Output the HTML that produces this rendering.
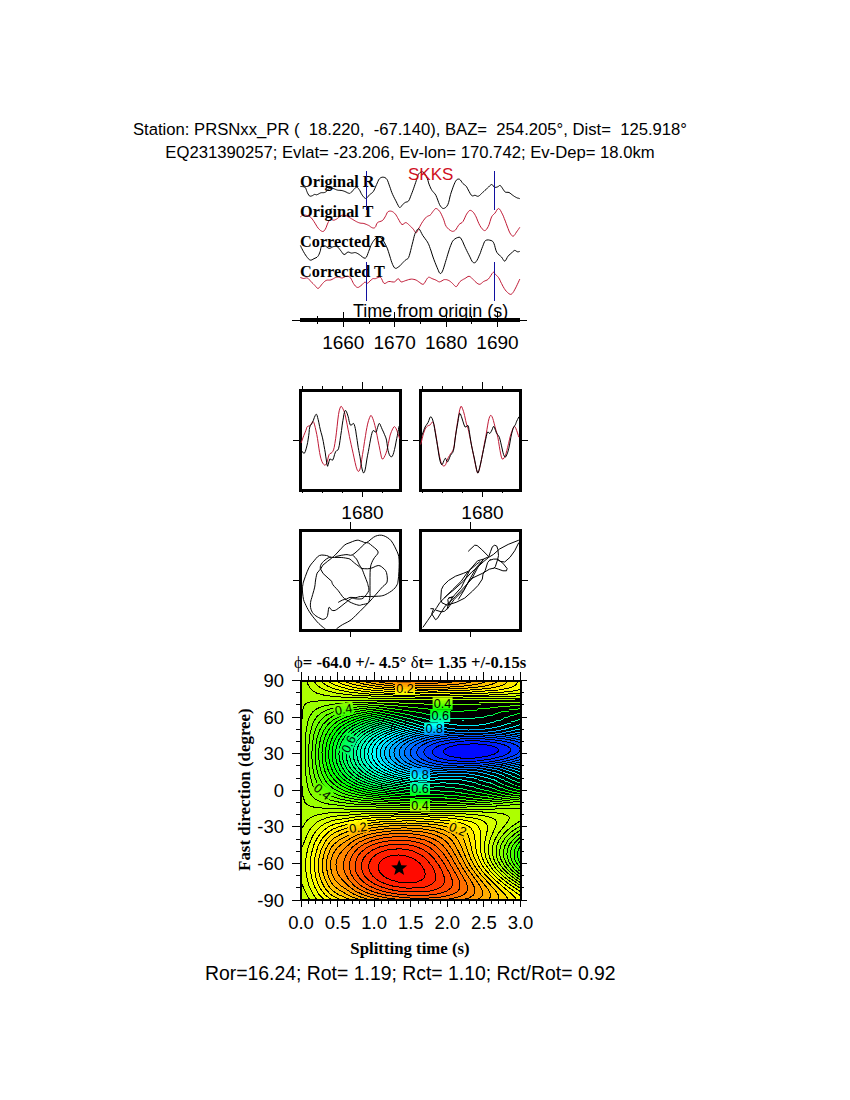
<!DOCTYPE html><html><head><meta charset="utf-8"><style>html,body{margin:0;padding:0;background:#fff;width:850px;height:1100px;overflow:hidden}svg{display:block}line{shape-rendering:crispEdges}</style></head><body>
<svg width="850" height="1100" viewBox="0 0 850 1100">
<rect width="850" height="1100" fill="#fff"/>
<text x="410" y="134.6" font-family="'Liberation Sans', sans-serif" font-size="16.67" text-anchor="middle" xml:space="preserve">Station: PRSNxx_PR (  18.220,  -67.140), BAZ=  254.205°, Dist=  125.918°</text>
<text x="410" y="157.9" font-family="'Liberation Sans', sans-serif" font-size="16.67" text-anchor="middle" xml:space="preserve">EQ231390257; Evlat= -23.206, Ev-lon= 170.742; Ev-Dep= 18.0km</text>
<g fill="none" stroke-width="1" stroke-linejoin="round">
<path stroke="#000" d="M300.4 186.4 301.3 186.5 302.6 186.6 304.0 186.8 305.1 187.3 305.7 188.1 306.1 189.2 306.5 190.4 306.9 191.5 307.4 192.7 308.0 193.9 308.7 195.0 309.3 195.8 310.0 196.1 310.7 196.2 311.4 196.0 312.1 195.8 312.7 195.5 313.3 195.1 313.9 194.7 314.5 194.4 315.0 194.4 315.6 194.6 316.1 194.8 316.8 194.8 317.7 194.4 318.7 193.9 319.7 193.3 320.6 192.9 321.4 192.7 322.1 192.7 322.8 192.7 323.4 192.7 324.0 192.6 324.6 192.5 325.2 192.3 325.8 192.0 326.4 191.4 326.9 190.6 327.5 189.8 328.1 189.2 328.8 188.8 329.5 188.5 330.2 188.3 330.9 188.2 331.6 188.2 332.3 188.3 333.0 188.5 333.8 188.7 334.6 189.0 335.5 189.4 336.5 189.8 337.5 190.1 338.6 190.3 339.8 190.3 341.1 190.4 342.2 190.6 343.2 190.9 344.2 191.2 345.1 191.6 346.0 192.0 346.9 192.4 347.7 192.9 348.6 193.2 349.3 193.4 349.9 193.3 350.5 193.0 351.0 192.5 351.6 192.0 352.3 191.3 353.1 190.3 353.8 189.4 354.5 188.7 355.1 188.1 355.7 187.6 356.2 187.3 356.8 187.3 357.4 187.5 358.0 188.0 358.6 188.7 359.2 189.6 359.9 190.7 360.6 192.1 361.3 193.6 362.0 194.8 362.7 195.8 363.5 196.8 364.2 197.6 364.8 198.1 365.3 198.4 365.8 198.5 366.2 198.4 366.7 198.1 367.3 197.5 368.0 196.7 368.7 195.7 369.5 194.8 370.4 194.1 371.4 193.4 372.4 192.6 373.3 191.5 374.2 190.0 375.0 188.2 375.8 186.2 376.6 184.5 377.3 182.9 378.0 181.3 378.6 179.9 379.4 178.8 380.3 178.0 381.2 177.5 382.2 177.2 383.2 177.2 384.2 177.3 385.1 177.7 386.0 178.3 386.9 179.3 387.7 180.8 388.4 182.7 389.1 184.8 389.8 186.8 390.5 188.7 391.1 190.6 391.8 192.5 392.6 194.4 393.5 196.3 394.5 198.3 395.5 200.2 396.4 201.9 397.2 203.6 398.1 205.3 398.8 206.7 399.6 207.5 400.3 207.4 401.1 206.6 401.8 205.6 402.5 204.7 403.2 204.1 403.9 203.5 404.6 202.9 405.3 202.4 406.1 202.1 407.0 201.9 407.8 201.6 408.6 200.9 409.3 199.7 410.0 198.0 410.7 196.2 411.4 194.4 412.1 192.6 412.8 190.7 413.5 188.8 414.2 186.8 414.9 184.7 415.7 182.4 416.4 180.3 417.1 178.4 417.6 176.9 417.9 175.6 418.3 174.5 418.9 173.6 419.7 172.8 420.7 172.1 421.7 171.7 422.7 171.8 423.7 172.4 424.7 173.5 425.6 174.9 426.5 176.5 427.3 178.4 428.0 180.6 428.6 182.9 429.3 184.9 430.0 186.5 430.6 188.0 431.3 189.3 432.1 190.6 433.0 191.7 433.9 192.7 434.9 193.8 435.9 195.3 436.8 197.5 437.8 200.1 438.7 202.6 439.6 204.7 440.5 206.2 441.5 207.4 442.4 208.2 443.4 208.5 444.5 208.2 445.7 207.5 446.8 206.3 447.8 204.7 448.6 202.5 449.3 199.8 449.9 197.0 450.6 194.4 451.3 192.1 452.1 189.9 452.8 187.8 453.5 185.9 454.2 184.2 454.9 182.6 455.6 181.2 456.3 180.2 457.1 179.5 457.9 179.1 458.8 179.1 459.6 179.3 460.4 180.0 461.2 181.1 462.0 182.4 462.9 183.5 463.8 184.3 464.7 184.9 465.6 185.6 466.6 186.8 467.7 188.8 469.0 191.3 470.3 193.7 471.4 195.3 472.4 195.9 473.3 195.8 474.2 195.4 475.1 195.3 475.9 195.6 476.7 196.0 477.5 196.3 478.4 196.2 479.4 195.6 480.4 194.7 481.5 193.6 482.6 192.5 483.8 191.5 485.0 190.3 486.2 189.2 487.4 188.2 488.5 187.1 489.6 185.9 490.7 185.0 491.6 184.5 492.4 184.8 493.1 185.7 493.7 186.7 494.4 187.3 495.2 187.4 496.1 187.3 496.9 187.1 497.7 186.8 498.4 186.4 499.0 185.9 499.5 185.5 500.1 185.4 500.7 185.8 501.2 186.5 501.8 187.3 502.4 188.2 503.0 189.2 503.7 190.2 504.4 191.3 505.2 192.0 506.1 192.3 507.0 192.3 508.0 192.3 509.0 192.5 510.0 193.1 510.9 193.8 511.9 194.6 512.8 195.3 513.7 195.9 514.7 196.6 515.6 197.1 516.5 197.6 517.4 198.0 518.4 198.2 519.2 198.5 519.8 198.6"/>
<path stroke="#c01a36" d="M300.4 216.9 300.9 216.5 301.6 215.8 302.5 215.3 303.6 215.0 305.1 215.1 306.9 215.5 308.7 216.1 310.2 216.9 311.3 217.8 312.2 219.0 313.1 220.2 314.0 221.6 315.0 223.2 316.1 225.0 317.1 226.7 318.2 228.2 319.3 229.4 320.4 230.4 321.5 231.1 322.5 231.5 323.3 231.4 324.0 231.0 324.6 230.2 325.3 229.2 326.0 227.8 326.7 226.0 327.4 224.1 328.1 222.6 328.7 221.4 329.3 220.5 329.8 219.8 330.5 219.3 331.3 219.3 332.1 219.7 332.9 220.1 333.8 220.2 334.7 220.0 335.7 219.5 336.6 219.0 337.5 218.4 338.3 217.8 339.0 217.1 339.7 216.5 340.4 216.0 341.1 215.6 341.8 215.3 342.4 215.2 343.2 215.1 344.0 215.2 344.9 215.3 345.9 215.6 346.9 216.0 348.0 216.6 349.2 217.3 350.4 218.1 351.6 218.8 352.8 219.5 354.1 220.3 355.3 221.0 356.4 221.6 357.4 222.1 358.3 222.5 359.2 222.8 360.1 223.1 361.0 223.2 361.9 223.3 362.9 223.3 363.9 223.5 365.0 223.9 366.2 224.3 367.5 224.9 368.6 225.4 369.6 226.0 370.6 226.8 371.5 227.4 372.4 227.8 373.2 228.0 373.9 228.0 374.6 227.8 375.2 227.3 375.8 226.4 376.2 225.0 376.8 223.7 377.5 222.6 378.5 222.0 379.8 221.6 381.1 221.2 382.2 220.7 383.1 219.9 383.8 219.0 384.4 218.0 385.1 216.9 385.8 215.6 386.5 214.1 387.1 212.8 387.9 211.8 388.8 211.3 389.7 211.1 390.6 211.1 391.6 211.3 392.6 211.7 393.6 212.4 394.5 213.2 395.4 214.1 396.1 215.1 396.8 216.3 397.5 217.5 398.2 218.8 399.1 220.3 400.0 222.1 401.0 223.6 402.0 224.5 403.0 224.4 403.9 223.7 404.9 222.9 405.8 222.6 406.7 222.9 407.6 223.6 408.6 224.5 409.5 225.4 410.5 226.3 411.5 227.2 412.4 228.2 413.3 229.2 414.1 230.3 414.8 231.6 415.4 232.6 416.1 232.9 416.8 232.4 417.4 231.2 418.1 229.7 418.9 228.2 419.8 226.6 420.7 224.9 421.7 223.2 422.7 221.6 423.7 220.2 424.6 219.0 425.6 217.8 426.5 216.9 427.5 216.3 428.4 215.9 429.3 215.6 430.2 215.1 431.0 214.3 431.7 213.3 432.4 212.2 433.1 211.3 433.8 210.4 434.5 209.5 435.1 208.8 435.9 208.5 436.8 208.7 437.7 209.3 438.6 210.1 439.6 211.3 440.6 212.8 441.6 214.8 442.5 216.8 443.4 218.8 444.1 220.8 444.7 222.8 445.3 224.7 446.2 226.4 447.4 227.9 448.8 229.3 450.3 230.4 451.6 231.1 452.7 231.4 453.6 231.2 454.5 230.8 455.4 230.1 456.3 229.0 457.2 227.4 458.2 225.8 459.1 224.5 460.0 223.7 461.0 223.2 462.0 222.6 462.9 221.6 463.8 220.0 464.8 217.9 465.7 215.8 466.6 214.1 467.5 212.8 468.3 211.7 469.1 210.8 469.9 210.4 470.7 210.4 471.6 210.8 472.4 211.4 473.2 212.2 473.9 213.1 474.6 214.1 475.3 215.4 476.1 216.9 476.9 218.8 477.8 221.1 478.8 223.4 479.8 225.4 480.9 227.2 482.1 228.8 483.4 230.0 484.5 230.6 485.5 230.3 486.5 229.4 487.4 228.0 488.3 226.4 489.2 224.3 490.0 221.6 490.8 219.0 491.6 216.9 492.4 215.6 493.2 214.8 494.0 214.1 494.9 213.2 495.8 211.9 496.7 210.3 497.7 209.0 498.6 208.5 499.5 209.1 500.5 210.4 501.4 212.2 502.4 214.1 503.4 216.2 504.3 218.6 505.3 221.1 506.2 223.5 507.1 226.0 508.1 228.6 509.0 231.0 509.9 232.9 510.8 234.3 511.6 235.4 512.4 236.0 513.2 236.2 514.0 235.7 514.9 234.6 515.7 233.3 516.5 232.0 517.4 230.8 518.4 229.4 519.2 228.2 519.8 227.3"/>
<path stroke="#000" d="M300.4 245.5 300.8 246.3 301.3 247.5 302.0 248.8 302.7 250.2 303.5 251.7 304.5 253.4 305.5 255.0 306.5 256.4 307.4 257.6 308.3 258.7 309.3 259.6 310.2 260.1 311.1 260.1 312.1 259.8 313.0 259.2 314.0 258.7 315.0 258.2 316.0 257.8 317.0 257.2 317.8 256.4 318.5 255.4 319.1 254.2 319.6 252.9 320.1 251.6 320.5 250.2 320.7 248.8 321.0 247.5 321.5 246.5 322.3 246.0 323.2 245.8 324.3 245.8 325.3 246.0 326.2 246.5 327.1 247.3 328.1 248.0 329.1 248.4 330.2 248.2 331.5 247.6 332.7 246.9 333.8 246.5 334.8 246.4 335.8 246.4 336.7 246.5 337.5 246.9 338.3 247.5 338.9 248.3 339.6 249.2 340.4 250.2 341.3 251.4 342.2 252.7 343.1 253.9 344.1 254.5 345.0 254.3 346.0 253.5 347.0 252.6 347.9 252.1 348.8 252.1 349.8 252.5 350.7 252.9 351.6 253.1 352.5 253.0 353.5 252.8 354.4 252.6 355.4 252.6 356.3 252.9 357.2 253.3 358.1 253.8 359.2 254.5 360.6 255.5 362.3 256.9 363.9 258.0 365.3 258.2 366.3 257.3 367.2 255.5 367.9 253.5 368.6 251.6 369.2 250.0 369.8 248.4 370.3 246.9 370.9 245.5 371.5 244.3 372.0 243.3 372.6 242.3 373.3 241.3 374.1 240.2 375.0 239.1 376.0 238.1 377.0 237.5 378.0 237.2 379.1 237.1 380.1 237.4 381.3 238.2 382.6 239.7 384.0 241.8 385.3 244.2 386.5 246.6 387.5 248.9 388.3 251.3 389.1 253.8 389.8 256.1 390.5 258.4 391.2 260.7 391.9 262.7 392.6 264.5 393.3 265.9 393.9 267.0 394.6 267.9 395.4 268.3 396.3 268.3 397.2 267.8 398.2 267.1 399.2 266.4 400.2 265.6 401.1 264.6 402.0 263.5 402.9 262.6 403.7 261.8 404.4 261.1 405.1 260.4 405.8 259.8 406.5 259.4 407.2 259.1 407.9 258.6 408.6 257.5 409.3 255.6 410.0 253.1 410.7 250.4 411.4 247.6 412.1 244.7 412.9 241.6 413.6 238.7 414.2 236.3 414.7 234.6 415.1 233.4 415.6 232.5 416.1 231.6 416.7 230.5 417.4 229.5 418.1 228.8 418.9 228.8 419.8 229.8 420.7 231.5 421.7 233.5 422.7 235.4 423.9 237.0 425.1 238.7 426.3 240.3 427.4 241.9 428.2 243.4 428.9 244.9 429.5 246.5 430.2 248.5 431.1 251.0 432.0 254.0 433.0 257.0 434.0 259.8 435.0 262.4 436.0 264.9 437.0 267.3 437.8 269.2 438.5 270.8 439.0 272.1 439.6 273.0 440.1 273.5 440.7 273.5 441.3 273.1 441.9 272.3 442.5 271.1 443.2 269.4 443.9 267.2 444.6 264.9 445.3 262.6 445.9 260.5 446.6 258.4 447.2 256.3 447.8 254.2 448.5 252.0 449.2 249.8 449.9 247.6 450.6 245.7 451.3 244.0 451.9 242.5 452.6 241.2 453.5 240.1 454.8 239.0 456.3 238.1 457.8 237.5 459.1 237.2 460.0 237.4 460.6 237.9 461.2 238.9 461.9 240.1 462.8 241.8 463.7 244.0 464.7 246.3 465.7 248.5 466.7 250.5 467.6 252.4 468.6 254.3 469.5 256.1 470.4 257.9 471.2 259.7 472.0 261.2 472.8 262.2 473.6 262.7 474.4 262.8 475.2 262.5 476.1 261.7 477.0 260.3 478.0 258.4 478.9 256.2 479.8 254.2 480.6 252.3 481.2 250.3 481.9 248.4 482.6 246.6 483.3 244.8 483.9 243.1 484.6 241.6 485.5 240.5 486.8 240.0 488.3 239.9 489.8 240.2 491.1 240.5 492.0 240.9 492.7 241.4 493.3 242.2 493.9 243.4 494.6 245.3 495.2 247.7 495.9 250.2 496.8 252.3 497.9 253.8 499.1 254.9 500.4 256.0 501.5 257.0 502.4 258.3 503.2 259.7 504.0 260.8 504.8 261.2 505.6 260.5 506.4 259.1 507.2 257.5 508.1 256.1 509.0 255.1 510.0 254.3 510.9 253.5 511.8 252.8 512.6 252.0 513.2 251.3 513.9 250.7 514.6 250.4 515.3 250.5 516.1 251.0 516.8 251.5 517.5 251.8 518.2 251.8 518.8 251.7 519.4 251.5 519.8 251.4"/>
<path stroke="#c01a36" d="M300.4 277.5 301.0 277.7 301.8 278.0 302.7 278.3 303.6 278.5 304.5 278.4 305.5 278.1 306.4 277.9 307.4 278.0 308.4 278.7 309.3 279.6 310.3 280.8 311.2 281.8 312.1 282.8 313.1 283.7 314.0 284.6 314.9 285.5 315.7 286.5 316.5 287.5 317.3 288.2 318.2 288.4 319.2 287.7 320.3 286.4 321.4 284.9 322.5 283.6 323.4 282.6 324.3 281.7 325.2 281.0 326.2 280.4 327.3 280.1 328.5 280.1 329.7 280.1 330.9 279.9 332.1 279.4 333.4 278.7 334.6 278.0 335.6 277.5 336.4 277.2 337.1 277.1 337.8 277.1 338.5 277.1 339.3 277.3 340.2 277.6 341.2 277.9 342.2 278.0 343.3 277.6 344.5 277.0 345.8 276.4 346.9 276.1 347.9 276.2 348.9 276.6 349.8 277.2 350.7 278.0 351.4 279.2 352.1 280.7 352.8 282.2 353.5 283.6 354.4 284.8 355.3 286.0 356.3 286.9 357.3 287.4 358.3 287.4 359.2 286.9 360.2 286.2 361.1 285.5 362.1 284.7 363.0 283.7 363.9 282.8 364.8 282.2 365.5 282.3 366.1 282.8 366.8 283.2 367.6 283.2 368.7 282.4 370.0 281.1 371.3 279.8 372.4 278.9 373.3 278.6 374.0 278.6 374.7 278.7 375.6 278.6 376.7 278.1 378.0 277.5 379.2 277.0 380.4 277.2 381.4 278.4 382.3 280.3 383.1 282.2 384.1 283.4 385.2 283.4 386.3 282.8 387.5 282.0 388.8 281.5 390.2 281.5 391.7 281.8 393.2 282.0 394.5 281.9 395.6 281.2 396.5 280.1 397.4 279.0 398.2 278.6 398.9 279.1 399.6 280.1 400.3 281.3 401.1 281.9 402.1 281.9 403.3 281.5 404.5 281.0 405.8 280.5 407.2 280.1 408.6 279.6 410.0 279.3 411.4 279.1 412.7 279.2 413.9 279.4 415.1 279.7 416.1 280.1 416.9 280.5 417.5 280.9 418.1 281.4 418.9 281.9 419.9 282.6 421.0 283.5 422.2 284.2 423.2 284.3 424.1 283.6 425.0 282.2 425.8 280.8 426.5 279.6 427.1 278.7 427.6 278.0 428.2 277.5 428.8 277.2 429.5 277.3 430.4 277.7 431.2 278.2 432.1 278.6 433.0 279.0 434.0 279.3 434.9 279.7 435.9 280.1 436.8 280.6 437.7 281.2 438.6 281.7 439.6 281.9 440.7 281.5 442.0 280.8 443.2 280.0 444.4 279.6 445.5 279.6 446.7 279.7 447.8 280.1 448.8 280.5 449.8 281.1 450.7 281.8 451.6 282.6 452.5 283.4 453.4 284.4 454.4 285.5 455.3 286.4 456.3 286.6 457.2 285.9 458.1 284.4 459.1 282.8 460.1 281.5 461.2 280.6 462.4 279.9 463.6 279.2 464.8 278.6 465.9 277.9 467.0 277.1 468.0 276.5 469.0 276.3 469.9 276.5 470.7 277.1 471.5 277.8 472.3 278.6 473.2 279.5 474.2 280.5 475.1 281.5 476.1 282.4 477.0 283.1 477.9 283.8 478.9 284.2 479.8 284.3 480.7 283.9 481.6 283.2 482.6 282.3 483.6 281.5 484.7 281.0 485.9 280.5 487.1 280.0 488.3 279.1 489.5 277.6 490.8 275.6 492.0 273.7 493.0 272.5 493.6 272.2 494.0 272.5 494.4 273.2 494.9 273.9 495.7 274.6 496.7 275.5 497.7 276.6 498.6 277.7 499.4 279.0 500.1 280.4 500.7 281.9 501.5 283.4 502.3 285.0 503.2 286.7 504.2 288.4 505.2 289.9 506.3 291.3 507.6 292.5 508.8 293.6 509.9 294.2 510.7 294.4 511.4 294.2 512.1 293.6 512.8 292.8 513.7 291.5 514.6 289.9 515.6 288.0 516.5 286.2 517.4 284.3 518.4 282.2 519.2 280.4 519.8 279.1"/>
</g>
<text x="300" y="186.9" font-family="'Liberation Serif', serif" font-weight="bold" font-size="16.3">Original R</text>
<text x="300" y="216.9" font-family="'Liberation Serif', serif" font-weight="bold" font-size="16.3">Original T</text>
<text x="300" y="246.8" font-family="'Liberation Serif', serif" font-weight="bold" font-size="16.3">Corrected R</text>
<text x="300" y="276.5" font-family="'Liberation Serif', serif" font-weight="bold" font-size="16.3">Corrected T</text>
<text x="408" y="179.8" font-family="'Liberation Sans', sans-serif" font-size="17" fill="#d0101e">SKKS</text>
<line x1="292" y1="320.4" x2="527" y2="320.4" stroke="#000" stroke-width="1"/>
<rect x="300" y="318" width="220" height="4" fill="#000"/>
<line x1="317.6" y1="316" x2="317.6" y2="323.6" stroke="#000" stroke-width="1"/>
<line x1="343.3" y1="312" x2="343.3" y2="326.6" stroke="#000" stroke-width="1"/>
<text x="343.3" y="348.7" font-family="'Liberation Sans', sans-serif" font-size="19" text-anchor="middle">1660</text>
<line x1="369.0" y1="316" x2="369.0" y2="323.6" stroke="#000" stroke-width="1"/>
<line x1="394.7" y1="312" x2="394.7" y2="326.6" stroke="#000" stroke-width="1"/>
<text x="394.7" y="348.7" font-family="'Liberation Sans', sans-serif" font-size="19" text-anchor="middle">1670</text>
<line x1="420.4" y1="316" x2="420.4" y2="323.6" stroke="#000" stroke-width="1"/>
<line x1="446.1" y1="312" x2="446.1" y2="326.6" stroke="#000" stroke-width="1"/>
<text x="446.1" y="348.7" font-family="'Liberation Sans', sans-serif" font-size="19" text-anchor="middle">1680</text>
<line x1="471.8" y1="316" x2="471.8" y2="323.6" stroke="#000" stroke-width="1"/>
<line x1="497.5" y1="312" x2="497.5" y2="326.6" stroke="#000" stroke-width="1"/>
<text x="497.5" y="348.7" font-family="'Liberation Sans', sans-serif" font-size="19" text-anchor="middle">1690</text>
<text x="353" y="316.7" font-family="'Liberation Sans', sans-serif" font-size="18">Time from origin (s)</text>
<line x1="366.2" y1="171.4" x2="366.2" y2="210.3" stroke="#1010a0" stroke-width="1.2"/>
<line x1="366.2" y1="261.5" x2="366.2" y2="300.8" stroke="#1010a0" stroke-width="1.2"/>
<line x1="494.5" y1="171.4" x2="494.5" y2="210.3" stroke="#1010a0" stroke-width="1.2"/>
<line x1="494.5" y1="261.5" x2="494.5" y2="300.8" stroke="#1010a0" stroke-width="1.2"/>
<rect x="300.5" y="390.5" width="100" height="100" fill="none" stroke="#000" stroke-width="3"/>
<line x1="302.5" y1="386" x2="302.5" y2="389" stroke="#000" stroke-width="1"/>
<line x1="302.5" y1="492" x2="302.5" y2="493.4" stroke="#000" stroke-width="1"/>
<line x1="322.5" y1="386" x2="322.5" y2="389" stroke="#000" stroke-width="1"/>
<line x1="322.5" y1="492" x2="322.5" y2="493.4" stroke="#000" stroke-width="1"/>
<line x1="342.5" y1="386" x2="342.5" y2="389" stroke="#000" stroke-width="1"/>
<line x1="342.5" y1="492" x2="342.5" y2="493.4" stroke="#000" stroke-width="1"/>
<line x1="362.5" y1="382" x2="362.5" y2="389" stroke="#000" stroke-width="1"/>
<line x1="362.5" y1="492" x2="362.5" y2="496.7" stroke="#000" stroke-width="1"/>
<line x1="382.5" y1="386" x2="382.5" y2="389" stroke="#000" stroke-width="1"/>
<line x1="382.5" y1="492" x2="382.5" y2="493.4" stroke="#000" stroke-width="1"/>
<line x1="292.5" y1="440.3" x2="299.5" y2="440.3" stroke="#000" stroke-width="1"/>
<line x1="401.5" y1="440.3" x2="407.5" y2="440.3" stroke="#000" stroke-width="1"/>
<text x="362.5" y="518.8" font-family="'Liberation Sans', sans-serif" font-size="19" text-anchor="middle">1680</text>
<rect x="300.5" y="530.5" width="100" height="100" fill="none" stroke="#000" stroke-width="3"/>
<line x1="350.5" y1="522" x2="350.5" y2="529" stroke="#000" stroke-width="1"/>
<line x1="350.5" y1="632" x2="350.5" y2="636.7" stroke="#000" stroke-width="1"/>
<line x1="292.5" y1="580.3" x2="299.5" y2="580.3" stroke="#000" stroke-width="1"/>
<line x1="401.5" y1="580.3" x2="407.5" y2="580.3" stroke="#000" stroke-width="1"/>
<rect x="420.5" y="390.5" width="100" height="100" fill="none" stroke="#000" stroke-width="3"/>
<line x1="422.5" y1="386" x2="422.5" y2="389" stroke="#000" stroke-width="1"/>
<line x1="422.5" y1="492" x2="422.5" y2="493.4" stroke="#000" stroke-width="1"/>
<line x1="442.5" y1="386" x2="442.5" y2="389" stroke="#000" stroke-width="1"/>
<line x1="442.5" y1="492" x2="442.5" y2="493.4" stroke="#000" stroke-width="1"/>
<line x1="462.5" y1="386" x2="462.5" y2="389" stroke="#000" stroke-width="1"/>
<line x1="462.5" y1="492" x2="462.5" y2="493.4" stroke="#000" stroke-width="1"/>
<line x1="482.5" y1="382" x2="482.5" y2="389" stroke="#000" stroke-width="1"/>
<line x1="482.5" y1="492" x2="482.5" y2="496.7" stroke="#000" stroke-width="1"/>
<line x1="502.5" y1="386" x2="502.5" y2="389" stroke="#000" stroke-width="1"/>
<line x1="502.5" y1="492" x2="502.5" y2="493.4" stroke="#000" stroke-width="1"/>
<line x1="412.5" y1="440.3" x2="419.5" y2="440.3" stroke="#000" stroke-width="1"/>
<line x1="521.5" y1="440.3" x2="527.5" y2="440.3" stroke="#000" stroke-width="1"/>
<text x="482.5" y="518.8" font-family="'Liberation Sans', sans-serif" font-size="19" text-anchor="middle">1680</text>
<rect x="420.5" y="530.5" width="100" height="100" fill="none" stroke="#000" stroke-width="3"/>
<line x1="470.5" y1="522" x2="470.5" y2="529" stroke="#000" stroke-width="1"/>
<line x1="470.5" y1="632" x2="470.5" y2="636.7" stroke="#000" stroke-width="1"/>
<line x1="412.5" y1="580.3" x2="419.5" y2="580.3" stroke="#000" stroke-width="1"/>
<line x1="521.5" y1="580.3" x2="527.5" y2="580.3" stroke="#000" stroke-width="1"/>
<g fill="none" stroke-width="1" stroke-linejoin="round">
<path stroke="#c01a36" d="M301.1 443.0 301.5 441.8 302.2 440.0 302.9 437.9 303.8 435.5 304.9 432.9 305.8 430.6 306.4 428.9 306.7 427.6 307.3 426.6 308.2 426.1 309.2 426.0 310.2 425.5 311.2 424.0 312.2 422.2 313.1 421.5 313.9 422.6 314.6 424.9 315.3 427.7 316.0 430.9 316.8 434.6 317.5 438.6 318.2 443.2 318.9 448.1 319.6 452.5 320.3 456.0 321.0 458.8 321.8 461.2 322.7 463.1 323.8 464.5 324.7 465.2 325.5 465.0 326.2 464.1 326.9 462.6 327.6 460.1 328.3 457.0 329.1 454.6 330.0 453.6 331.1 453.2 332.0 452.5 332.8 451.4 333.5 449.9 334.2 447.4 334.9 443.4 335.7 438.3 336.4 432.8 337.1 426.6 337.8 420.0 338.5 414.6 339.2 410.8 340.0 408.1 340.7 406.6 341.4 406.4 342.2 407.4 342.9 408.8 343.6 410.1 344.3 411.9 345.1 414.6 346.0 419.0 347.1 424.3 348.0 429.2 348.8 433.0 349.4 436.4 350.2 440.1 351.1 444.3 352.1 448.8 353.1 453.2 354.1 457.9 355.1 462.5 356.0 466.3 356.8 468.9 357.5 470.6 358.2 471.4 358.9 471.2 359.7 470.0 360.4 467.7 361.1 464.2 361.7 459.7 362.5 454.6 363.5 448.5 364.5 441.7 365.5 435.7 366.2 431.2 366.9 427.5 367.6 424.1 368.5 420.7 369.6 417.6 370.5 415.7 371.3 415.6 372.0 416.7 372.7 418.3 373.4 420.2 374.2 422.7 374.9 425.5 375.6 428.5 376.3 431.9 377.1 435.7 378.0 440.5 379.1 445.7 380.0 450.3 380.8 454.1 381.4 457.2 382.2 459.0 383.1 458.9 384.1 457.4 385.1 455.4 386.0 453.2 386.8 450.6 387.6 447.4 388.4 443.4 389.3 439.0 390.2 435.0 391.4 431.7 392.7 428.8 393.8 427.0 394.6 426.6 395.3 427.3 396.0 428.5 396.8 430.2 397.5 432.3 398.2 434.3 398.8 436.0 399.3 437.5 399.6 438.6"/>
<path stroke="#000" d="M301.8 451.0 302.5 451.9 303.4 453.1 304.4 453.2 305.3 451.6 306.1 448.9 306.9 445.9 307.6 442.7 308.2 439.1 308.7 435.7 309.1 432.5 309.3 429.5 309.8 427.0 310.5 425.3 311.5 424.1 312.4 422.6 313.4 420.2 314.4 417.4 315.3 415.4 315.9 414.4 316.3 414.2 316.7 414.6 317.2 415.7 317.6 417.4 318.2 419.7 318.9 422.8 319.6 426.5 320.4 429.9 321.1 432.6 321.8 435.0 322.5 437.9 323.3 441.6 324.0 445.7 324.7 449.5 325.3 452.9 325.7 456.1 326.2 459.0 326.6 462.1 327.1 465.0 327.6 466.3 328.2 464.6 329.0 461.4 329.8 459.0 330.7 459.1 331.7 460.1 332.7 460.1 333.7 457.8 334.6 454.4 335.6 451.7 336.6 450.7 337.6 450.3 338.5 448.8 339.3 445.3 340.0 440.6 340.7 435.7 341.5 430.5 342.2 425.1 342.9 420.5 343.5 417.1 343.9 414.4 344.4 412.5 344.8 411.1 345.3 410.5 345.8 410.6 346.5 411.8 347.3 413.9 348.0 416.1 348.6 418.3 349.0 420.7 349.5 422.6 349.9 424.0 350.3 425.0 350.9 425.5 351.7 424.9 352.6 423.8 353.5 423.4 354.2 424.4 354.8 426.3 355.3 428.5 355.8 431.1 356.2 434.1 356.7 437.2 357.2 440.5 357.7 444.0 358.2 447.4 358.8 450.6 359.4 453.7 360.0 456.8 360.5 460.1 361.0 463.4 361.5 466.3 362.1 469.0 362.7 471.4 363.3 472.8 363.9 472.8 364.5 471.8 365.1 469.9 365.7 466.9 366.3 463.0 366.9 459.0 367.6 455.2 368.4 451.3 369.1 447.4 369.8 443.3 370.6 439.1 371.3 435.7 371.9 433.3 372.4 431.6 373.1 430.6 374.0 430.8 375.1 431.8 376.0 432.1 376.6 431.1 377.0 429.4 377.5 427.7 378.1 425.9 378.7 424.2 379.3 423.4 380.0 424.1 380.7 425.8 381.5 427.7 382.4 429.8 383.5 432.1 384.4 434.3 385.2 436.1 385.9 437.9 386.5 440.1 387.0 443.3 387.5 447.1 388.0 450.3 388.7 452.8 389.4 454.8 390.2 456.1 390.9 456.8 391.7 456.8 392.4 456.1 393.1 454.5 393.8 452.3 394.5 449.5 395.3 446.0 396.0 442.1 396.7 438.6 397.3 435.8 397.8 433.5 398.2 431.4 398.5 429.4 398.7 427.5 398.9 426.3"/>
<path stroke="#c01a36" d="M420.7 444.5 421.3 442.1 422.1 438.8 422.9 435.7 423.6 433.2 424.4 431.0 425.1 429.2 425.8 427.9 426.5 427.0 427.3 426.3 428.2 425.7 429.2 425.4 430.2 424.8 431.1 423.6 431.9 422.3 432.7 421.9 433.3 422.7 433.9 424.4 434.5 427.0 435.2 430.8 436.0 435.4 436.7 440.1 437.4 444.6 438.2 449.1 438.9 453.2 439.6 456.8 440.4 460.1 441.1 462.6 441.8 464.3 442.6 465.4 443.3 465.9 444.0 466.0 444.8 465.7 445.5 464.8 446.2 463.2 446.8 461.1 447.6 459.0 448.5 457.2 449.5 455.6 450.5 453.9 451.5 452.5 452.6 451.1 453.5 448.8 454.3 444.9 454.9 440.0 455.6 435.0 456.3 430.2 457.0 425.3 457.8 420.5 458.7 415.1 459.7 409.8 460.7 406.6 461.7 406.6 462.6 408.8 463.6 411.7 464.6 415.6 465.6 420.3 466.5 424.1 467.1 425.9 467.5 426.9 468.0 428.5 468.7 431.3 469.4 434.7 470.2 438.6 471.1 443.3 472.2 448.4 473.1 453.2 473.9 457.2 474.6 460.8 475.3 464.1 476.0 467.6 476.8 470.9 477.5 472.8 478.2 472.6 478.9 470.9 479.6 468.5 480.3 465.4 481.1 461.5 481.8 457.5 482.5 453.7 483.3 449.8 484.0 445.9 484.7 442.1 485.5 438.3 486.2 434.3 486.9 429.8 487.7 425.1 488.4 421.2 489.1 418.4 489.8 416.4 490.5 415.4 491.2 415.5 492.0 416.6 492.7 418.3 493.4 420.5 494.1 423.2 494.9 426.3 495.8 429.6 496.9 433.3 497.8 437.2 498.6 441.6 499.3 446.2 500.0 450.3 500.7 454.0 501.4 457.1 502.2 459.0 503.1 459.1 504.1 457.9 505.1 456.1 506.0 453.7 506.8 450.7 507.6 447.4 508.5 443.8 509.4 439.9 510.2 436.5 511.0 433.9 511.7 431.7 512.4 429.9 513.1 428.2 513.8 426.8 514.5 426.3 515.2 427.1 516.0 428.7 516.7 430.6 517.5 432.9 518.3 435.4 518.9 437.2"/>
<path stroke="#000" d="M420.7 438.6 421.3 437.1 422.1 434.9 422.9 432.8 423.6 430.8 424.3 428.8 425.1 427.0 426.0 425.5 427.0 424.1 428.0 422.6 428.9 420.4 429.7 418.0 430.5 416.8 431.4 417.2 432.3 418.8 433.1 421.2 433.9 424.5 434.6 428.6 435.3 432.8 436.0 437.1 436.8 441.5 437.5 445.9 438.2 450.5 438.9 455.2 439.6 459.0 440.3 461.8 441.1 463.9 441.8 464.8 442.6 464.0 443.3 462.2 444.0 460.5 444.5 459.4 445.0 458.5 445.5 458.3 446.1 459.4 446.8 461.2 447.6 461.9 448.5 460.4 449.5 457.8 450.5 455.4 451.5 453.9 452.6 452.7 453.5 450.3 454.3 446.1 454.9 440.8 455.6 435.7 456.3 431.1 457.1 426.6 457.8 422.6 458.4 418.6 459.0 415.1 459.6 413.2 460.4 413.9 461.3 416.3 462.2 419.0 463.1 421.9 464.1 425.0 465.1 427.0 466.1 426.9 467.1 425.7 468.0 425.5 468.6 427.1 469.0 429.6 469.5 432.8 470.1 436.7 470.8 441.3 471.6 445.9 472.5 450.2 473.5 454.6 474.5 459.0 475.5 464.2 476.6 469.6 477.5 472.8 478.2 472.8 478.9 470.7 479.6 467.7 480.5 464.0 481.5 459.4 482.5 454.6 483.5 449.6 484.6 444.5 485.5 440.1 486.3 436.6 486.9 433.8 487.6 432.1 488.3 432.1 489.1 433.1 489.8 433.5 490.5 432.7 491.3 431.3 492.0 429.9 492.6 428.3 493.2 426.8 493.8 426.3 494.6 427.8 495.5 430.4 496.4 432.8 497.4 434.3 498.4 435.5 499.3 437.2 500.1 439.8 500.8 442.8 501.5 445.9 502.2 449.0 502.9 452.2 503.6 454.6 504.3 456.2 505.0 457.1 505.8 456.8 506.7 455.0 507.8 452.1 508.7 448.8 509.5 445.1 510.2 441.0 510.9 437.2 511.6 433.9 512.4 430.9 513.1 428.5 513.9 426.9 514.6 425.8 515.3 424.8 515.8 423.6 516.2 422.5 516.7 421.2 517.5 419.6 518.3 418.0 518.9 416.8"/>
<path stroke="#000" d="M325.3 628.8 324.9 628.6 324.4 628.3 323.5 627.6 322.1 626.5 320.5 625.1 318.8 623.5 317.2 621.9 315.7 620.1 314.1 618.2 312.5 616.2 310.9 614.0 309.4 611.8 308.1 609.6 306.9 607.4 305.9 605.3 305.0 603.4 304.2 601.6 303.5 599.4 303.0 596.4 302.6 593.0 302.4 590.0 302.4 587.9 302.6 586.3 302.9 584.7 303.1 583.4 303.4 582.1 304.1 580.0 305.4 576.3 307.1 571.8 308.8 567.9 310.5 565.1 312.3 562.8 314.1 560.8 315.8 558.7 317.5 556.8 319.4 555.5 321.7 555.0 324.2 555.2 326.5 555.5 328.0 556.0 329.3 556.8 331.2 557.3 334.3 557.5 338.0 557.4 341.2 557.5 343.5 557.7 345.4 558.0 347.0 558.3 348.1 558.5 349.0 558.7 350.0 559.2 351.4 560.3 353.1 561.8 354.7 563.2 356.4 564.5 358.0 565.7 359.4 566.7 360.1 567.5 360.6 568.1 361.8 568.5 364.2 568.7 367.3 568.8 370.3 568.5 373.1 567.5 375.8 566.2 378.2 565.5 380.0 565.8 381.5 566.7 382.9 567.9 384.3 569.1 385.6 570.6 386.5 572.6 387.1 575.6 387.4 579.1 387.1 582.0 386.1 583.8 384.5 585.1 382.9 586.5 381.5 588.0 380.1 589.6 378.2 591.8 375.5 594.9 372.4 598.5 368.8 602.4 364.5 606.8 359.8 611.5 355.9 615.3 353.5 617.7 351.8 619.2 350.0 620.6 347.5 622.1 344.9 623.4 342.4 624.7 340.1 626.2 338.0 627.7 336.5 628.8"/>
<path stroke="#000" d="M331.8 581.4 328.1 578.1 323.1 573.5 320.6 569.1 322.8 565.2 327.3 561.5 331.2 558.5 332.9 557.0 333.8 556.3 335.3 554.9 338.0 552.0 341.2 548.4 344.1 545.5 346.2 544.0 348.1 543.3 350.0 542.6 352.4 541.6 354.9 540.7 357.1 540.2 358.8 540.3 360.3 540.9 361.8 541.4 363.3 542.0 364.8 542.7 366.5 542.6 368.7 541.2 371.2 539.1 373.5 537.3 375.5 536.2 377.5 535.5 379.4 535.2 381.4 535.2 383.3 535.6 385.3 536.4 387.3 537.5 389.3 538.9 391.2 540.8 392.9 543.3 394.5 546.2 395.9 549.1 397.1 551.6 398.1 554.0 398.8 556.7 399.1 559.9 399.2 563.5 399.1 567.3 398.9 571.7 398.6 576.3 398.2 580.0 397.9 582.2 397.7 583.4 397.1 584.7 396.2 586.3 395.0 587.9 393.5 589.4 391.7 590.9 389.6 592.3 387.6 593.5 385.9 594.4 384.4 595.1 382.9 595.6 381.4 595.9 380.0 596.1 378.2 596.2 376.0 596.3 373.4 596.4 370.6 596.5 367.2 596.5 363.6 596.4 360.6 596.5 358.7 596.8 357.4 597.3 355.9 597.6 354.0 597.6 352.0 597.4 350.0 597.4 348.2 598.1 346.5 599.0 344.7 598.8 342.6 596.7 340.3 593.5 338.2 590.6 336.2 588.4 334.3 586.4 332.9 584.7 332.2 583.3 331.9 582.2 331.8 581.4"/>
<path stroke="#000" d="M335.3 556.7 336.8 556.3 339.0 555.8 341.2 555.3 343.2 555.0 345.1 554.7 347.0 554.6 348.7 554.9 350.4 555.3 352.4 554.9 355.0 553.0 357.9 550.4 360.6 547.9 362.7 545.7 364.6 543.7 366.5 542.6 368.5 543.0 370.4 544.4 372.4 546.1 374.7 547.9 377.0 550.0 378.2 552.0 377.7 553.8 376.2 555.6 374.7 557.3 373.6 559.0 372.6 560.8 371.8 562.6 371.2 564.2 370.7 565.9 370.3 568.5 370.1 572.6 370.0 577.5 370.0 582.0 370.0 585.7 370.0 589.0 370.0 591.8 370.0 593.7 370.1 595.1 370.0 596.5 369.7 598.4 369.3 600.3 368.8 601.8 368.4 602.7 368.0 603.1 367.1 603.5 365.5 604.0 363.5 604.4 361.8 604.7 360.9 605.0 360.3 605.3 359.4 605.3 358.0 605.1 356.4 604.6 354.7 604.1 353.2 603.5 351.6 602.8 350.0 602.1 348.3 601.0 346.6 599.9 344.7 599.4 342.4 600.1 339.9 601.4 338.2 602.4"/>
<path stroke="#000" d="M352.4 554.9 353.5 555.9 355.1 557.4 356.5 559.1 357.6 561.0 358.5 563.1 359.4 564.9 360.2 566.2 361.0 567.2 361.8 568.5 362.5 570.2 363.3 572.2 364.1 574.4 365.1 576.9 366.2 579.7 367.1 582.0 367.6 583.5 367.9 584.7 368.2 585.9 368.6 587.4 368.9 589.0 368.8 590.6 367.9 592.4 366.6 594.3 365.3 595.9 364.2 597.2 363.1 598.1 361.8 598.8 359.9 599.0 357.8 599.0 355.9 598.8 354.5 598.6 353.4 598.3 352.4 598.2 351.6 598.4 350.9 598.8 350.0 599.4 348.8 600.2 347.5 601.2 345.9 602.4 344.0 603.9 341.9 605.6 340.0 607.1 338.3 608.4 336.7 609.5 335.3 610.3 334.0 610.6 332.8 610.5 331.8 610.3 331.3 609.9 331.0 609.3 330.6 608.8 330.0 608.0 329.4 607.3 328.8 607.6 328.4 609.7 328.0 612.8 327.6 615.3 327.1 616.7 326.6 617.5 325.9 618.2 325.0 618.8 323.9 619.2 322.9 619.4 322.0 619.2 321.1 618.8 320.0 618.2 318.7 617.6 317.3 616.8 315.9 615.9 314.6 614.9 313.4 613.7 312.4 612.4 311.6 610.9 311.0 609.3 310.6 607.6 310.4 605.9 310.4 604.1 310.6 602.4 310.8 601.0 311.2 599.6 311.8 597.6 312.7 594.4 313.8 590.6 314.7 587.1 315.1 584.5 315.3 582.2 315.6 580.0 316.0 577.6 316.5 575.2 317.1 573.2 318.0 571.8 319.2 570.7 320.0 569.6 320.3 568.3 320.3 566.9 320.6 565.5 321.3 564.1 322.3 562.7 323.5 561.4 325.0 560.1 326.7 558.8 328.2 557.9 329.4 557.5 330.5 557.3 331.2 557.3"/>
<path stroke="#000" d="M422.9 627.4 427.8 620.3 432.3 613.8 436.8 607.4 440.0 602.3 447.1 595.3 454.1 589.6 463.3 581.2 471.8 572.0 476.0 568.5 483.8 561.4 488.8 557.3 493.5 554.4 499.4 549.1 508.2 544.4 518.8 540.2"/>
<path stroke="#000" d="M518.8 542.6 514.7 550.8 510.0 557.3 504.7 562.0 500.6 561.4 497.1 559.1 493.5 559.1 490.0 560.2"/>
<path stroke="#000" d="M468.2 551.4 470.0 549.6 474.7 545.2 477.1 545.5 481.8 549.6 488.8 556.7 490.6 551.4 492.4 546.7 494.7 545.2 496.8 546.1 497.9 549.6 498.5 555.5 497.6 559.6 495.3 566.7 493.5 568.5"/>
<path stroke="#000" d="M497.1 559.1 502.9 563.2 507.1 568.5 506.5 570.8 502.9 570.8 498.2 569.1 494.7 567.9 489.4 569.2 482.3 573.4 470.3 579.1 464.0 589.6 454.1 599.5 447.1 609.4"/>
<path stroke="#000" d="M480.2 561.4 476.7 564.2 468.2 571.3 463.3 573.4 455.5 576.2 448.5 580.5 443.5 585.4 441.4 589.6 440.7 599.5 442.0 602.8 447.1 605.2 456.2 602.3 464.7 598.1 472.5 591.1 478.1 585.4 482.3 579.1 483.0 574.1 485.2 570.6 487.6 562.6 490.6 559.1"/>
<path stroke="#000" d="M430.4 608.7 433.6 608.7 431.7 613.8 435.5 619.7 437.5 618.4 441.4 611.9 445.2 606.1 455.6 596.4 465.3 586.0 471.8 578.9 477.6 567.8 483.5 559.1 488.8 556.7"/>
<path stroke="#000" d="M435.5 610.0 441.4 611.9 444.6 611.2 447.2 608.7 448.5 604.1 447.8 599.6 449.1 597.7 452.4 597.7 455.0 594.4 461.4 587.3 470.0 569.6 477.6 560.8 483.5 559.1"/>
<path stroke="#000" d="M458.3 599.5 464.0 590.3 467.5 583.3 470.3 578.3 476.5 567.3 483.5 559.6"/>
<path stroke="#000" d="M444.2 598.1 452.7 589.6 461.2 581.2 468.2 571.3"/>
<path stroke="#000" d="M448.5 598.1 452.7 596.7 448.5 605.2"/>
</g>
<defs><path id="c0" d="M303 900l217.5 0 0-219.5-219.5 0 0 219.5zM398.4 882l-7.6-2.1-4.2-1.9-3.1-1.9-3.7-4-1-2-.5-4 .6-2 1.9-3 2-1.8 4-2.2 4-1.3 4-.7 4-.1 6 .6 7.9 2.6 4 2.5 3.9 3.4 3.8 6 .8 4-.3 2-1 1.9-2.2 2-5 2-7.9 .9-10-.8z"/>
<path id="c1" d="M303 900l217.5 0 0-219.5-219.5 0 0 219.5zM405.7 888l-13.2-2-6.7-2-5-2.1-4-2.4-4-3.4-2.8-4-1.2-4 .2-4 1.6-4 2.2-2.8 4-3.2 4-2 6.1-2 5.9-1 8-.2 6 .6 5.9 1.5 6 2.6 4 2.5 4.5 4 4.7 6 3 6 .9 4-.4 3.9-1.1 2-2.2 2-3.4 1.8-4 1.2-6 .9-11.9 .2z"/>
<path id="c2" d="M303 900l217.5 0 0-219.5-219.5 0 0 219.5zM408.5 892l-9.7-.9-8-1.4-8-2.2-8-3.3-6.3-4.2-3.6-3.8-2.4-4.1-1.1-4 .5-6 1.7-4 3.3-4 5.4-4 6.5-2.9 8-2 8-1 8 0 8 1 5.9 1.6 6 2.5 6 4 4.9 4.8 5.1 6.9 3.8 7.1 2 5.9-.1 4-.7 2-3 3.2-4 2.1-6 1.6-6 .8-15.9 .3z"/>
<path id="c3" d="M303 900l217.5 0 0-219.5-219.5 0 0 219.5zM396.6 894l-10.9-2-8.9-2.6-7.5-3.4-6-4-3.9-4-3.3-5.9-1-4 .3-6 2.5-6 3.1-4 5.8-4.5 7.5-3.5 8.5-2.3 10-1.4 10-.2 8 .7 7.9 1.7 6 2.1 6 3.5 6 5.3 6.5 8.6 6.8 12 2.2 5.9 .3 4-.5 2-1.3 2.2-4 2.9-6 2.1-6 1.2-8 .8-10 .2-9.9-.4-10-1z"/>
<path id="c4" d="M303 900l217.5 0 0-219.5-219.5 0 0 219.5zM410.4 898l-13.6-1.2-12-1.9-10-2.6-8-3.2-5.9-3.5-6.2-5.6-3.6-5.9-1.6-6-.1-4 .7-4 2.7-6 5.3-6 5.9-4 8.8-3.6 9.6-2.4 10.4-1.2 12-.2 9.9 .9 10 2.4 6 2.5 6 3.9 6 6.3 6 8.9 8.3 14.5 1.9 3.9 1.1 4-.1 4-1.3 2.3-1.7 1.7-2.3 1.3-5.9 2.2-8 1.5-8 .9-10 .3-11.9-.2z"/>
<path id="c5" d="M303 900l100.3 0-14.5-1.7-10-1.9-10-2.8-8.1-3.6-6.1-4-5.7-6-4.4-7.9-1.3-6 .9-6 1.6-4 2.4-4 4.8-5.5 6.3-4.5 7.6-3.4 10-2.8 12-1.9 12-.6 10 .4 7.9 .9 7.1 1.4 6.9 2.4 6 3.3 4 3.4 4 4.7 4 6.1 15.2 26 1.5 4 0 4-.8 2-1.9 2-4.1 2.2-7.9 2.3-11.2 1.5 79 0 0-219.5-79 0-18.8 .7-19.4-.7-102.3 0 0 219.5z"/>
<path id="c6" d="M303 900l80.5 0-10.7-2.2-9.9-3.1-8-3.9-6-4.4-6.5-6.4-4.4-5.9-1.9-6-.1-4 .6-4 2.9-6 5.4-6 6.8-6 7.2-4.1 9.9-3.5 10-2.1 12-1.4 12-.5 15.9 .9 6 .9 7.9 1.9 5.2 1.9 3.8 2 3.1 2.3 3.7 3.7 4.3 6.2 8.7 15.8 10.4 15.9 2.9 6 .3 4-.8 2-1.6 1.8-3.8 2.2-6.4 2 58.1 0 0-219.5-58.1 0-15.7 2.2-22 .8-21.9-.8-19.3-2.2-82.5 0 0 219.5z"/>
<path id="c7" d="M303 900l67.6 0-9.7-2.8-8-3.5-11.6-7.7-6.2-6-3.1-5.9-1.3-6 .3-8 1.9-6.1 4-5.8 4.8-4.1 9.2-6.1 8.2-3.8 9.7-2.9 10-1.8 12-1.2 14-.4 15.9 .7 14 2.4 8.9 3.2 3.5 1.9 3.6 3 2.5 3 2.5 4 10.3 20 12.7 17.9 3.4 6 .6 4-.8 2-1.9 2-3.7 2 44.2 0 0-219.5-44.2 0-6.9 2-12.8 1.9-13.9 .9-16 .3-29.9-1.2-14-1.6-12.2-2.3-69.6 0 0 219.5z"/>
<path id="c8" d="M303 900l57.1 0-9.2-3.5-11.9-6.5-5.1-4-3.1-4-3.3-7.9-1.1-8 .4-6 .8-4 3.3-8 3.1-4 5.2-4 11-5.9 8.7-3.4 9.9-2.4 10-1.5 12-1.1 14-.4 15.9 .5 12 1.3 10 2.3 8 3.4 4.2 3.2 3.2 4 2.5 4.9 5.5 13.1 4.3 8 5.6 8 12.7 15.9 1.8 4 .1 2-.8 2-2 2 32.7 0 0-219.5-32.7 0-4.1 2-5.1 1.4-12 1.9-17.9 1.3-20 .4-21.9-.5-18-1.3-16-2.2-12.7-3-59.1 0 0 219.5z"/>
<path id="c9" d="M303 900l47.9 0-12-5.2-6-3.8-2.9-3-2.7-4-3.4-7.9-1-4-.5-6 .3-6 1.2-6 2.3-6 2.3-4 2.4-3.1 3.2-2.9 6.8-3.8 9.9-4.1 12.1-3.5 9.9-1.7 10-1 24-1 17.9 .6 14 1.5 10 2.3 7.9 3.6 3.8 3.2 2.8 3.9 7.1 20 5.6 10 4.7 6.2 14.3 15.7 2.9 4 .8 2 .2 2-.7 2 22.4 0 0-219.5-22.4 0-2.2 2-4.6 2-8.8 2-9.9 1.2-18 1.2-23.9 .4-27.9-.6-22-1.8-15.9-2.5-14-3.9-49.9 0 0 219.5z"/>
<path id="c10" d="M303 900l38.5 0-8.6-3.9-2.7-2.1-3.8-4-2.7-4-2-4-1.5-4-1.3-5.9-.5-6 .2-6 2.3-10 3.9-8 3.1-4 3-2.8 4-2.7 6-2.6 11.8-3.8 8.8-2 21.3-2.6 26-.8 17.9 .5 16 1.5 11.9 2.4 4 1.5 4 2.1 2 1.6 3 3.8 1.6 3.9 2.6 12 2.7 8 4.2 8 4.3 6 5.6 6.2 16.1 15.7 2.6 4 .3 2 12.9 0 0-219.5-12.9 0-.8 2-2.4 2-1.9 .8-3.9 1.3-10 1.9-25.1 2-30.8 .6-31.9-.7-26-2.1-17.9-3-8-2.3-6.3-2.5-41.6 0 0 219.5z"/>
<path id="c11" d="M303 900l28.7 0-6.8-5.3-4.9-6.7-2-4-2-6-1.6-9.9 0-6 .7-6 2.9-10 4.4-8 5.8-5.9 4.7-3.1 6-2.4 12-3.2 8-1.6 21.9-2.4 28-.9 21.9 .6 18 1.5 11.9 2.2 3.8 1.3 4.2 2.1 2.4 1.9 2.6 4 1 3.9 1.2 12 1.3 6 3.2 8 3.7 6 8.6 9.8 18.9 16.1 3.9 4 1.2 2 3.9 0 0-219.5-3.9 0 .5 2-.8 2-2.7 2-6.2 2-8.8 1.5-28 2.1-35.9 .6-31.9-.5-27.6-1.7-14.3-1.8-10-2-8-2.4-8.1-3.8-33.8 0 0 219.5z"/>
<path id="c12" d="M303 900l21.4 0-5.8-6-4.4-8-3-9.9-1-10 .2-6 .9-6 2.8-10 4.2-8 5.4-5.9 5.2-3.7 5.4-2.3 17.8-4 20.7-2.4 26-1.1 27.9 .1 24.9 1.4 15 2.3 5.7 1.7 3.8 2 2.5 2.5 1.5 3.5 .2 19.9 2 8 2.9 6 5.4 7.4 6.4 6.5 7.5 6.3 16 11.5 0-206.3-8 1.6-12 1.3-27.9 1.4-43.9 .4-39.9-.9-22-1.5-17.9-2.6-12-3.4-6-2.9-3.5-2.4-26.4 0 0 219.5z"/>
<path id="c13" d="M303 900l14.2 0-4.4-6-3.7-8-2.6-9.9-1.1-10 .8-10 2.3-10 4.1-10 4.4-6.3 4-3.6 3.9-2.6 6-2.5 4-1.1 22-3.2 23.9-1.6 35.9-.5 34 .9 19.9 1.9 6 1.1 6 2.1 2.3 1.5 1.7 2 .7 2 0 4-2.6 11.9-.4 6 1.1 8 2.4 6 4.8 7.2 6.4 6.8 9.5 7.6 12 7.9 0-198.4-25.9 1.7-41.9 .8-45.9-.2-36-1.3-19.9-1.9-14-2.7-6-2-4-1.9-3.9-2.7-2.7-2.5-19.3 0 0 219.5z"/>
<path id="c14" d="M303 900l6.8 0-3.4-6-5.4-11.9 0 17.9zM520.5 888.3l0-192.4-37.9 1-53.9 .3-43.9-.6-29.9-1.3-18-2-11-2.8-4.3-2-3-2-2.2-2-3-4-12.4 0 0 169.2 6.4-15.5 2.2-4 3.4-4.5 4-3.5 4-2.2 5.9-2.2 6-1.4 30-2.6 43.9-1 49.8 .7 16 .9 12 1.4 8.4 2.4 2.6 2 .9 2-.6 4-5.4 11.9-2 8-.2 4 .4 4 1.1 4 1.7 4 3.8 6 7.2 7.5 8 6.3 9.6 6.1z"/>
<path id="c15" d="M518.5 884.2l2 1.2 0-187.3-53.9 .5-65.8-.1-39.9-.6-24-1.1-12-1.4-7.9-2.2-4-2.2-2.6-2.5-2.4-4-1.3-4-5.7 0 0 149.2 4.7-7.5 1.7-2 3.6-2.7 4-1.9 4-1.2 11.9-1.8 45.9-1.4 65.9-.1 43.9 1 10 .8 8.1 1.3 4.1 2 .6 2-2 4-8.8 10.9-4 7-1.5 4-.8 4 .2 6 .9 4 1.7 4 2.4 4 3.2 4 7.8 7.2 9.8 6.7z"/>
<path id="c16" d="M520.5 882.6l0-62-10 6.8-5.3 4.8-3.4 3.9-2.7 4-1.8 4-1 4-.3 4 .5 4 1.2 4 2.1 4 2.8 4 7.9 7.6 9 6.3zM324.9 808.3l22 .8 41.9 .1 93.8 0 37.9-.6 0-108.6-183.6 .3-21.9 .8-4 .5-4 1.2-2.1 1.6-1.8 4-1.2 12-.3 53.9 .5 14 .8 7.9 2.1 6.2 1.5 1.8 2.5 1.6 6 1.6 8.6 .8z"/>
<path id="c17" d="M518.5 878.7l2 1.3 0-54.1-8 5.1-4 3.4-3.4 3.7-3.7 6-1.3 4-.4 4 .3 4 1.2 4 3.4 6 5.4 6 7.6 5.9zM348.9 806.3l41.9 1.1 61.9 0 39.9-1.1 27.9-2.1 0-102.4-89.8-.5-67.8 .9-18 .8-12 1.2-9.9 2-6 2.4-4 3-3.3 4.8-2.1 6-1.6 10-.9 14 .1 17.9 1 14 1.9 10 1.5 3.9 2.6 4 2.8 2.7 4 2.3 4 1.5 5.9 1.4 18.2 2.1z"/>
<path id="c18" d="M520.5 877.3l0-47.4-6.3 4.3-6.1 5.9-3.5 6-1.3 6 .7 6 2.8 6 4.8 6 7.1 6zM356.9 804.3l39.9 1.5 53.9-.2 41.9-1.6 27.9-2.7 0-97.9-83.8-.8-37.9 .4-28 .8-17.9 1.2-14 1.8-10 2.4-7 3.2-4.8 4-2.8 4-2.6 6-2.1 10-1.1 13.9 .2 14 1.5 12 2.1 8 1.9 4 2.8 3.9 4 3.5 4.4 2.5 5.5 2 8 1.9 17.2 2.1z"/>
<path id="c19" d="M520.5 874.6l0-41.1-6 4.7-4.9 5.9-1.8 4-.9 6 1.3 6 2.1 4 4.2 5.2 5.3 4.8zM406.8 804.2l33.9 0 31.9-1 26-1.8 21.9-2.6 0-93.9-39.9-.9-37.9-.2-35.9 .4-28 1-19.9 1.5-14 2-10 2.5-8 3.6-3.9 3-2.6 2.6-3.8 6-2.7 8-1.6 10-.5 11.9 .7 10 1.9 10 3.2 8 4.6 5.9 4.7 3.7 4.7 2.3 7.3 2.5 8 1.8 10 1.4 13.9 1.1 34.1 1.2z"/>
<path id="c20" d="M520.5 871.6l0-34.5-5.3 5-2.7 3.9-1.6 4.1-.5 4 .6 4 1.6 4 2.5 4 3.7 4zM392.8 802.3l35.9 .4 35.9-.8 30-2.1 25.9-3 0-90.4-6-.3-35.9-.8-37.9-.2-33.9 .5-26 1.2-19.9 1.8-14 2.5-10.7 3.3-7.3 4.1-5.9 5.8-3.6 6.1-2.5 8-1.3 8-.3 11.9 1.1 10 2.6 8.8 3.9 7.2 4 4.3 5.3 3.6 6.7 3.1 6 1.8 8 1.7 12 1.7 26.5 1.7z"/>
<path id="c21" d="M520.5 868.2l0-27.2-2.8 3.1-2.4 4-1.3 6 .4 4 1.6 4 4.4 6zM386.8 800.3l33.9 .9 35.9-.6 32-2 31.9-3.7 0-87.1-33.9-1.2-37.9-.3-34 .4-27.9 1.3-20 1.9-13.9 2.4-12 3.6-8 4.3-4.8 4.2-4.3 6-3.2 8-1.5 8-.5 9.9 1.1 10 2.3 8 3.1 6 3.1 4 4.7 4 6 3.4 6 2.4 8 2.1 10 1.8 23 2.2z"/>
<path id="c22" d="M520.5 863.9l0-18.2-2.3 4.4-.7 4 .4 4 1.5 4zM382.8 798.2l31.9 1.5 38-.4 35.9-2.3 31.9-3.9 0-84-33.9-1.2-33.9-.4-32 .4-27.9 1.2-20 1.9-15.9 2.8-12 3.7-8 4.2-5.5 4.7-3.2 4-3.1 6-2.2 8-.9 7.9 .6 10 1.9 8 2.6 6 2.7 4 3.9 4 5.2 3.7 6 2.9 8 2.7 8 1.8 21.8 2.8z"/>
<path id="c23" d="M420.7 798.2l26-.2 25.9-1.3 24-2.1 23.9-3.1 0-81.1-51.9-1.7-33.9 .1-27.9 .9-22 1.6-18 2.5-13.9 3.5-10 4.4-4.2 2.7-3.8 3.4-4.9 6.6-2.6 6-1.7 7.9-.3 8 .6 6 1.5 6 2.7 6 4.5 6 4.5 4 5.7 3.4 6 2.5 8 2.4 7.9 1.7 12 1.7 12 1.1 29 1.1z"/>
<path id="c24" d="M404.8 796.3l29.9 .5 29.9-1 28-2.2 27.9-3.7 0-78.2-12-.7-31.9-1-31.9-.2-28 .7-23.9 1.6-18 2.2-13.9 3-12 4.4-7.6 4.7-4.4 4.2-4 5.8-2.5 6-1.5 7.9 0 8 1.7 8 2.6 6 3.7 5.3 5.1 4.7 4.9 3.1 6 2.7 6.2 2.1 9.7 2.4 10 1.6 24.2 2z"/>
<path id="c25" d="M396.8 794.3l29.9 1.1 31.9-.7 30-2.2 31.9-4.1 0-75.5-29.9-1.4-32-.6-29.9 .4-25.9 1.4-18 1.9-16 2.8-11.9 3.6-10 5.1-5.3 4.3-4.7 5.8-2.9 6.2-1.5 5.9-.3 8 .8 6 2 6 3.6 6 3.6 4 5.2 4 5.5 2.9 6 2.4 7.9 2.4 8 1.6 21.7 2.6z"/>
<path id="c26" d="M392.8 792.3l27.9 1.6 33.9-.4 34-2.4 31.9-4.1 0-72.8-27.9-1.5-30-.6-27.9 .3-25.9 1.2-20 2-15.7 2.8-12.2 3.6-9.3 4.4-5.5 4-3.8 4-3.8 6-2.1 6-.9 5.9 .3 6 1.4 6 2.7 6 3 4 4.1 4 3.9 2.7 6.1 3.3 7.9 2.8 7.9 2.1 19.7 3z"/>
<path id="c27" d="M414.7 792.2l26 .4 25.9-1.1 28-2.4 25.9-3.5 0-70.2-21.9-1.3-30-.8-27.9 .1-24.4 1-21.5 2-16 2.6-12.5 3.4-9.4 4-4 2.4-4.5 3.6-3.6 4-3.5 6-1.9 5.9-.5 6 .7 6 2 6 3.3 5.3 4 4.3 4 3 5.9 3.4 6.1 2.4 7.9 2.4 18 3.3 23.9 1.8z"/>
<path id="c28" d="M406.8 790.3l25.9 .9 27.9-.7 30-2.3 29.9-4 0-67.6-27.9-1.6-28-.6-27.9 .3-24 1.3-17.9 1.9-16 3-12 3.6-9.9 4.9-6 4.7-3.6 4.3-2.4 4.1-2 5.8-.5 6 .7 6 2.3 6 2.6 4 3.7 4 5.2 3.9 6 3.2 5.9 2.3 8 2.3 8 1.7 21.3 2.5z"/>
<path id="c29" d="M402.8 788.4l25.9 1.4 29.9-.5 30-2.2 31.9-4.2 0-65.1-25.9-1.6-28-.7-25.9 .3-24 1.2-17.9 1.9-16 2.9-12 3.5-9.9 4.7-6 4.4-3.7 4-2.5 4-2.2 5.9-.6 4 .4 6 1.9 6 2.3 4 3.5 4 4.9 3.9 9.9 5.1 14 4.1 18.5 2.9z"/>
<path id="c30" d="M424.7 788.3l22 .1 23.9-1.1 24-2.2 25.9-3.6 0-62.5-31.9-1.9-26-.5-23.9 .4-22 1.3-17.9 2.1-16 3.2-12 4-8.9 4.8-6.7 6-2.8 4-1.8 4-1 3.9-.1 6 1.6 6 2.1 4 3.1 4 4.7 4 3.9 2.4 5.9 2.9 7.7 2.7 6.3 1.6 18 2.9 20.5 1.5z"/>
<path id="c31" d="M414.7 786.3l24 .9 25.9-.8 28-2.3 27.9-3.9 0-60-6-.5-23.9-1.4-26-.5-23.9 .3-20 1.2-17.9 2-15.8 3.1-12.2 3.9-8.1 4.1-5.4 4-3.7 4-2.5 4-1.5 3.9-.6 4 .5 6 2.4 6 2.8 4 4.2 3.9 3.9 2.7 6 3 6.3 2.4 15.7 3.7 18.9 2.3z"/>
<path id="c32" d="M410.8 784.5l23.9 1.3 27.9-.6 28-2.2 29.9-4.1 0-57.5-23.9-1.7-24-.7-23.9 .1-22 1-17.9 1.9-14.2 2.4-13.8 3.9-9.2 4.1-5.9 4-4.1 4-2.7 4-1.6 3.9-.7 4 .6 6 1.5 4 2.2 3.5 2.1 2.5 4.8 4 5 3 6 2.6 14 3.9 16 2.5z"/>
<path id="c33" d="M430.7 784.3l22 0 21.9-1.1 24-2.4 21.9-3.3 0-54.9-33.9-2.2-24-.4-21.9 .6-20 1.4-15.9 2.1-12 2.5-11.8 3.8-8.2 4.1-4 2.9-3.1 3-2.9 4-1.7 3.9-.8 4 .2 4 1.1 4 2.2 4 3.6 4 3.4 2.7 5.5 3.3 4.5 2 13.6 4 16.4 2.6 19.8 1.4z"/>
<path id="c34" d="M420.7 782.3l22 .8 25.9-.8 26-2.3 25.9-3.8 0-52.3-10-.9-21.9-1.3-24-.5-21.9 .5-18 1.2-15.9 2.1-14 2.9-12 4.1-8.1 4.4-3.9 3.1-2.6 2.9-2.5 4-1.3 3.9-.3 4 .7 4 1.8 4 3.2 4 3 2.7 5.1 3.3 10.9 4.5 15 3.5 16.9 2z"/>
<path id="c35" d="M416.7 780.4l22 1.3 25.9-.5 28-2.3 27.9-4.1 0-49.7-20-1.6-21.9-1-22 0-19.9 .8-16 1.5-15.9 2.5-11.8 3.1-9.9 4-4.3 2.4-4.6 3.6-4.6 6-1.4 3.9-.3 4 .8 4 2.1 4 2 2.6 3.9 3.4 4.1 2.6 6 2.9 7.5 2.5 6.5 1.6 15.2 2.4z"/>
<path id="c36" d="M440.7 780.3l19.9-.2 20-1.3 19.9-2.2 20-3.1 0-47.1-21.9-1.9-20-.8-20-.1-19 .8-16.9 1.6-13.9 2.2-10 2.4-10.4 3.8-7.1 4-2.6 2-3.7 4-1.3 2-1.5 3.9-.3 4 .9 4 2 3.7 1.9 2.3 4.1 3.4 4 2.5 10 4.1 12 2.9 15.9 2.1 17.3 1z"/>
<path id="c37" d="M428.7 778.3l20 .6 23.9-.8 24-2.3 23.9-3.7 0-44.4-16-1.5-19.9-1.1-18-.3-17.9 .4-18 1.3-14.1 1.9-11.8 2.5-10.8 3.5-7.8 4-3.4 2.4-3.5 3.6-1.4 2-1.6 3.9-.3 4 1 4 1.8 3.1 2.6 2.9 7.4 5 10 4 12.9 3 17 2z"/>
<path id="c38" d="M424.7 776.3l22 1.2 23.9-.6 26-2.5 23.9-3.8 0-41.5-6.3-.7-19.6-1.6-18-.7-20 .1-17.9 1-14 1.5-13.9 2.6-10.7 3.1-8.8 4-4.5 3-3.1 3-1.5 2-1.7 3.9-.3 4 .4 2 1.9 4 1.6 2 2.7 2.4 4 2.7 8 3.6 12 3.2 13.5 2.1z"/>
<path id="c39" d="M422.7 774.4l22 1.6 23.9-.4 26-2.3 25.9-4.2 0-38.5-1.3-.2-18.7-1.9-15.9-.9-18-.3-17.9 .6-14 1.1-14 2-11.9 2.7-10 3.7-8 4.7-4 4.3-1.2 1.9-1.1 4 .5 4 .9 2 2.9 3.8 2.6 2.2 7.1 4 10.3 3.4 13.2 2.6z"/>
<path id="c40" d="M440.7 774.3l19.9 .2 20-1.2 21.9-2.6 18-3.2 0-35.4-14-1.7-15.9-1.2-16-.5-16 .1-15.9 .9-14 1.6-12 2.3-9.4 2.8-8.7 4-5.4 4-3 3.9-.8 2-.2 4 1.5 4 1.4 2 4.8 4 8.3 4 9.5 2.8 12 2 13.7 1.2z"/>
<path id="c41" d="M436.7 772.4l19.9 .6 20-.8 22-2.4 21.9-4 0-32.1-20-2.4-15.9-1-16-.3-15.9 .5-14 1.2-14 2.1-10 2.4-6.1 2.2-7.7 4-4.5 4-1.6 2.6-.9 3.3 .7 4 1.1 2 3.1 3.2 6 3.8 7.9 3 10 2.3 12.9 1.7z"/>
<path id="c42" d="M434.7 770.4l19.9 1 22-.7 22-2.5 21.9-4.2 0-28.5-16-2.3-13.9-1.1-14-.6-14 .1-15.1 .8-12.8 1.5-10 1.9-9.3 2.6-6.6 2.8-5 3.2-2.1 2-2.4 3.9-.2 4 2 4 4.6 4 8.8 4 8.2 2.2 11.2 1.8z"/>
<path id="c43" d="M434.7 768.4l19.9 1.4 22-.7 23.6-2.8 20.3-4.3 0-24.5-14-2.4-13.9-1.3-14-.7-14 0-11.9 .5-10 1-11.4 1.8-8.2 2-8.4 3.1-5 2.9-4 3.9-1.4 4 .2 2 .9 2 3.7 4 7.6 4 6.7 2 10.4 2z"/>
<path id="c44" d="M436.7 766.5l10 1.1 9.9 .4 22-.8 22.5-2.9 9.7-2 9.7-2.7 0-19.8-16-3.1-23.9-1.9-24 .3-11.9 1.1-10 1.7-9.7 2.5-5.1 2-3.8 2-4.5 3.9-1.1 2-.4 2 .3 2 1 2 3.3 3.2 5.3 2.8 5.8 2 9.3 2z"/>
<path id="c45" d="M438.7 764.5l10 1.1 9.9 .5 12-.2 12-.9 19.9-3.1 10-2.5 8-2.8 0-13.8-7.9-2.4-10.1-1.9-21.9-1.9-20 .1-17.9 1.9-8.5 1.8-6.3 2-5.2 2.4-4.5 3.5-1.5 3.1 .3 2.9 1.2 2 2.2 2 3.5 2 5.2 2 8.5 2z"/>
<path id="c46" d="M442.7 762.5l15.9 1.4 20-.7 8.7-.9 11.6-2 7.8-2 5.7-2 4-2 2.6-2 1.2-2-.3-2-1.7-1.9-3.5-2-5.7-2-9.5-2-18.9-1.8-18 .1-16.1 1.7-9 2-4.8 1.6-4.6 2.4-2.5 1.9-1.4 2-.4 2 .6 2 1.6 2 2.9 2 4.8 2 8.1 2z"/>
<path id="c47" d="M448.7 760.4l13.9 1 14-.4 14-1.8 11.4-2.9 4.7-2 2.9-2 1.2-2-.5-2-2.4-1.9-4.8-2-8.7-2-15.8-1.5-14 .1-13.3 1.4-10.6 2.7-3.1 1.3-2.9 1.8-1.9 2.1-.4 2 .9 2 2.3 2 4.4 2 8.3 2z"/>
<path id="c48" d="M464.6 758.3l10-.2 12-1.7 7.3-2.1 3.6-2 1.3-2-1.1-2-4-1.9-9.1-1.9-8-.6-12 .2-8 1-7.9 2.1-2.5 1.1-2.3 2-.3 2 1.1 1.4 4 2.2 7.9 1.8 7.6 .6z"/>
<mask id="lm" maskUnits="userSpaceOnUse" x="300" y="679" width="222" height="223"><rect x="300" y="679" width="222" height="223" fill="#fff"/><rect x="-10.0" y="-6.2" width="20.0" height="12.4" fill="#000" transform="translate(405 688.5) rotate(0)"/><rect x="-10.0" y="-6.2" width="20.0" height="12.4" fill="#000" transform="translate(442.6 703.5) rotate(0)"/><rect x="-10.0" y="-6.2" width="20.0" height="12.4" fill="#000" transform="translate(440.2 715.8) rotate(0)"/><rect x="-10.0" y="-6.2" width="20.0" height="12.4" fill="#000" transform="translate(434.2 728.6) rotate(0)"/><rect x="-10.0" y="-6.2" width="20.0" height="12.4" fill="#000" transform="translate(343.5 709.3) rotate(-10)"/><rect x="-10.0" y="-6.2" width="20.0" height="12.4" fill="#000" transform="translate(348.5 744) rotate(-64)"/><rect x="-10.0" y="-6.2" width="20.0" height="12.4" fill="#000" transform="translate(420 774.2) rotate(0)"/><rect x="-10.0" y="-6.2" width="20.0" height="12.4" fill="#000" transform="translate(420 788.8) rotate(0)"/><rect x="-10.0" y="-6.2" width="20.0" height="12.4" fill="#000" transform="translate(420 805.2) rotate(0)"/><rect x="-10.0" y="-6.2" width="20.0" height="12.4" fill="#000" transform="translate(322.5 791.6) rotate(39)"/><rect x="-10.0" y="-6.2" width="20.0" height="12.4" fill="#000" transform="translate(358 827.5) rotate(-9)"/><rect x="-10.0" y="-6.2" width="20.0" height="12.4" fill="#000" transform="translate(457.8 829.2) rotate(23)"/></mask></defs>
<svg x="301.0" y="680.5" width="219.5" height="219.5" viewBox="301.0 680.5 219.5 219.5" overflow="hidden">
<rect x="301.0" y="680.5" width="219.5" height="219.5" fill="#ff0a00"/>
<g shape-rendering="crispEdges" fill-rule="evenodd"><use href="#c0" fill="#ff1f00"/><use href="#c1" fill="#ff3300"/><use href="#c2" fill="#ff4700"/><use href="#c3" fill="#ff5c00"/><use href="#c4" fill="#ff7000"/><use href="#c5" fill="#ff8500"/><use href="#c6" fill="#ff9900"/><use href="#c7" fill="#ffad00"/><use href="#c8" fill="#ffc200"/><use href="#c9" fill="#ffd600"/><use href="#c10" fill="#ffeb00"/><use href="#c11" fill="#ffff00"/><use href="#c12" fill="#ebff00"/><use href="#c13" fill="#d6ff00"/><use href="#c14" fill="#c2ff00"/><use href="#c15" fill="#adff00"/><use href="#c16" fill="#99ff00"/><use href="#c17" fill="#85ff00"/><use href="#c18" fill="#70ff00"/><use href="#c19" fill="#5cff00"/><use href="#c20" fill="#47ff00"/><use href="#c21" fill="#33ff00"/><use href="#c22" fill="#1fff00"/><use href="#c23" fill="#0aff00"/><use href="#c24" fill="#00ff0a"/><use href="#c25" fill="#00ff1f"/><use href="#c26" fill="#00ff33"/><use href="#c27" fill="#00ff47"/><use href="#c28" fill="#00ff5c"/><use href="#c29" fill="#00ff70"/><use href="#c30" fill="#00ff85"/><use href="#c31" fill="#00ff99"/><use href="#c32" fill="#00ffad"/><use href="#c33" fill="#00ffc2"/><use href="#c34" fill="#00ffd6"/><use href="#c35" fill="#00ffeb"/><use href="#c36" fill="#00ffff"/><use href="#c37" fill="#00ebff"/><use href="#c38" fill="#00d6ff"/><use href="#c39" fill="#00c2ff"/><use href="#c40" fill="#00adff"/><use href="#c41" fill="#0099ff"/><use href="#c42" fill="#0085ff"/><use href="#c43" fill="#0070ff"/><use href="#c44" fill="#005cff"/><use href="#c45" fill="#0047ff"/><use href="#c46" fill="#0033ff"/><use href="#c47" fill="#001fff"/><use href="#c48" fill="#000aff"/></g>
<g mask="url(#lm)"><g fill="none" stroke="#000" stroke-width="1" shape-rendering="crispEdges"><use href="#c0"/><use href="#c1"/><use href="#c2"/><use href="#c3"/><use href="#c4"/><use href="#c5"/><use href="#c6"/><use href="#c7"/><use href="#c8"/><use href="#c9"/><use href="#c10"/><use href="#c11"/><use href="#c12"/><use href="#c13"/><use href="#c14"/><use href="#c15"/><use href="#c16"/><use href="#c17"/><use href="#c18"/><use href="#c19"/><use href="#c20"/><use href="#c21"/><use href="#c22"/><use href="#c23"/><use href="#c24"/><use href="#c25"/><use href="#c26"/><use href="#c27"/><use href="#c28"/><use href="#c29"/><use href="#c30"/><use href="#c31"/><use href="#c32"/><use href="#c33"/><use href="#c34"/><use href="#c35"/><use href="#c36"/><use href="#c37"/><use href="#c38"/><use href="#c39"/><use href="#c40"/><use href="#c41"/><use href="#c42"/><use href="#c43"/><use href="#c44"/><use href="#c45"/><use href="#c46"/><use href="#c47"/><use href="#c48"/></g></g>
</svg>
<text transform="translate(405 688.5) rotate(0)" x="0" y="4.5" font-family="'Liberation Sans', sans-serif" font-size="12.6" text-anchor="middle">0.2</text>
<text transform="translate(442.6 703.5) rotate(0)" x="0" y="4.5" font-family="'Liberation Sans', sans-serif" font-size="12.6" text-anchor="middle">0.4</text>
<text transform="translate(440.2 715.8) rotate(0)" x="0" y="4.5" font-family="'Liberation Sans', sans-serif" font-size="12.6" text-anchor="middle">0.6</text>
<text transform="translate(434.2 728.6) rotate(0)" x="0" y="4.5" font-family="'Liberation Sans', sans-serif" font-size="12.6" text-anchor="middle">0.8</text>
<text transform="translate(343.5 709.3) rotate(-10)" x="0" y="4.5" font-family="'Liberation Sans', sans-serif" font-size="12.6" text-anchor="middle">0.4</text>
<text transform="translate(348.5 744) rotate(-64)" x="0" y="4.5" font-family="'Liberation Sans', sans-serif" font-size="12.6" text-anchor="middle">0.6</text>
<text transform="translate(420 774.2) rotate(0)" x="0" y="4.5" font-family="'Liberation Sans', sans-serif" font-size="12.6" text-anchor="middle">0.8</text>
<text transform="translate(420 788.8) rotate(0)" x="0" y="4.5" font-family="'Liberation Sans', sans-serif" font-size="12.6" text-anchor="middle">0.6</text>
<text transform="translate(420 805.2) rotate(0)" x="0" y="4.5" font-family="'Liberation Sans', sans-serif" font-size="12.6" text-anchor="middle">0.4</text>
<text transform="translate(322.5 791.6) rotate(39)" x="0" y="4.5" font-family="'Liberation Sans', sans-serif" font-size="12.6" text-anchor="middle">0.4</text>
<text transform="translate(358 827.5) rotate(-9)" x="0" y="4.5" font-family="'Liberation Sans', sans-serif" font-size="12.6" text-anchor="middle">0.2</text>
<text transform="translate(457.8 829.2) rotate(23)" x="0" y="4.5" font-family="'Liberation Sans', sans-serif" font-size="12.6" text-anchor="middle">0.2</text>
<polygon points="399.20,859.70 401.32,865.19 407.19,865.50 402.62,869.21 404.14,874.90 399.20,871.70 394.26,874.90 395.78,869.21 391.21,865.50 397.08,865.19" fill="#000"/>
<text x="294" y="667.8" font-family="'Liberation Serif', serif" font-weight="bold" font-size="16.65"><tspan font-weight="normal">ϕ</tspan>= -64.0 +/- 4.5° <tspan font-weight="normal">δ</tspan>t= 1.35 +/-0.15s</text>
<rect x="301" y="681" width="220" height="219" fill="none" stroke="#000" stroke-width="2"/>
<line x1="301.00" y1="672.3" x2="301.00" y2="679.5" stroke="#000" stroke-width="1"/>
<line x1="301.00" y1="901" x2="301.00" y2="906.7" stroke="#000" stroke-width="1"/>
<line x1="308.32" y1="676.2" x2="308.32" y2="679.5" stroke="#000" stroke-width="1"/>
<line x1="308.32" y1="901" x2="308.32" y2="904" stroke="#000" stroke-width="1"/>
<line x1="315.63" y1="676.2" x2="315.63" y2="679.5" stroke="#000" stroke-width="1"/>
<line x1="315.63" y1="901" x2="315.63" y2="904" stroke="#000" stroke-width="1"/>
<line x1="322.95" y1="676.2" x2="322.95" y2="679.5" stroke="#000" stroke-width="1"/>
<line x1="322.95" y1="901" x2="322.95" y2="904" stroke="#000" stroke-width="1"/>
<line x1="330.27" y1="676.2" x2="330.27" y2="679.5" stroke="#000" stroke-width="1"/>
<line x1="330.27" y1="901" x2="330.27" y2="904" stroke="#000" stroke-width="1"/>
<line x1="337.58" y1="672.3" x2="337.58" y2="679.5" stroke="#000" stroke-width="1"/>
<line x1="337.58" y1="901" x2="337.58" y2="906.7" stroke="#000" stroke-width="1"/>
<line x1="344.90" y1="676.2" x2="344.90" y2="679.5" stroke="#000" stroke-width="1"/>
<line x1="344.90" y1="901" x2="344.90" y2="904" stroke="#000" stroke-width="1"/>
<line x1="352.22" y1="676.2" x2="352.22" y2="679.5" stroke="#000" stroke-width="1"/>
<line x1="352.22" y1="901" x2="352.22" y2="904" stroke="#000" stroke-width="1"/>
<line x1="359.53" y1="676.2" x2="359.53" y2="679.5" stroke="#000" stroke-width="1"/>
<line x1="359.53" y1="901" x2="359.53" y2="904" stroke="#000" stroke-width="1"/>
<line x1="366.85" y1="676.2" x2="366.85" y2="679.5" stroke="#000" stroke-width="1"/>
<line x1="366.85" y1="901" x2="366.85" y2="904" stroke="#000" stroke-width="1"/>
<line x1="374.17" y1="672.3" x2="374.17" y2="679.5" stroke="#000" stroke-width="1"/>
<line x1="374.17" y1="901" x2="374.17" y2="906.7" stroke="#000" stroke-width="1"/>
<line x1="381.48" y1="676.2" x2="381.48" y2="679.5" stroke="#000" stroke-width="1"/>
<line x1="381.48" y1="901" x2="381.48" y2="904" stroke="#000" stroke-width="1"/>
<line x1="388.80" y1="676.2" x2="388.80" y2="679.5" stroke="#000" stroke-width="1"/>
<line x1="388.80" y1="901" x2="388.80" y2="904" stroke="#000" stroke-width="1"/>
<line x1="396.12" y1="676.2" x2="396.12" y2="679.5" stroke="#000" stroke-width="1"/>
<line x1="396.12" y1="901" x2="396.12" y2="904" stroke="#000" stroke-width="1"/>
<line x1="403.43" y1="676.2" x2="403.43" y2="679.5" stroke="#000" stroke-width="1"/>
<line x1="403.43" y1="901" x2="403.43" y2="904" stroke="#000" stroke-width="1"/>
<line x1="410.75" y1="672.3" x2="410.75" y2="679.5" stroke="#000" stroke-width="1"/>
<line x1="410.75" y1="901" x2="410.75" y2="906.7" stroke="#000" stroke-width="1"/>
<line x1="418.07" y1="676.2" x2="418.07" y2="679.5" stroke="#000" stroke-width="1"/>
<line x1="418.07" y1="901" x2="418.07" y2="904" stroke="#000" stroke-width="1"/>
<line x1="425.38" y1="676.2" x2="425.38" y2="679.5" stroke="#000" stroke-width="1"/>
<line x1="425.38" y1="901" x2="425.38" y2="904" stroke="#000" stroke-width="1"/>
<line x1="432.70" y1="676.2" x2="432.70" y2="679.5" stroke="#000" stroke-width="1"/>
<line x1="432.70" y1="901" x2="432.70" y2="904" stroke="#000" stroke-width="1"/>
<line x1="440.02" y1="676.2" x2="440.02" y2="679.5" stroke="#000" stroke-width="1"/>
<line x1="440.02" y1="901" x2="440.02" y2="904" stroke="#000" stroke-width="1"/>
<line x1="447.33" y1="672.3" x2="447.33" y2="679.5" stroke="#000" stroke-width="1"/>
<line x1="447.33" y1="901" x2="447.33" y2="906.7" stroke="#000" stroke-width="1"/>
<line x1="454.65" y1="676.2" x2="454.65" y2="679.5" stroke="#000" stroke-width="1"/>
<line x1="454.65" y1="901" x2="454.65" y2="904" stroke="#000" stroke-width="1"/>
<line x1="461.97" y1="676.2" x2="461.97" y2="679.5" stroke="#000" stroke-width="1"/>
<line x1="461.97" y1="901" x2="461.97" y2="904" stroke="#000" stroke-width="1"/>
<line x1="469.28" y1="676.2" x2="469.28" y2="679.5" stroke="#000" stroke-width="1"/>
<line x1="469.28" y1="901" x2="469.28" y2="904" stroke="#000" stroke-width="1"/>
<line x1="476.60" y1="676.2" x2="476.60" y2="679.5" stroke="#000" stroke-width="1"/>
<line x1="476.60" y1="901" x2="476.60" y2="904" stroke="#000" stroke-width="1"/>
<line x1="483.92" y1="672.3" x2="483.92" y2="679.5" stroke="#000" stroke-width="1"/>
<line x1="483.92" y1="901" x2="483.92" y2="906.7" stroke="#000" stroke-width="1"/>
<line x1="491.23" y1="676.2" x2="491.23" y2="679.5" stroke="#000" stroke-width="1"/>
<line x1="491.23" y1="901" x2="491.23" y2="904" stroke="#000" stroke-width="1"/>
<line x1="498.55" y1="676.2" x2="498.55" y2="679.5" stroke="#000" stroke-width="1"/>
<line x1="498.55" y1="901" x2="498.55" y2="904" stroke="#000" stroke-width="1"/>
<line x1="505.87" y1="676.2" x2="505.87" y2="679.5" stroke="#000" stroke-width="1"/>
<line x1="505.87" y1="901" x2="505.87" y2="904" stroke="#000" stroke-width="1"/>
<line x1="513.18" y1="676.2" x2="513.18" y2="679.5" stroke="#000" stroke-width="1"/>
<line x1="513.18" y1="901" x2="513.18" y2="904" stroke="#000" stroke-width="1"/>
<line x1="520.50" y1="672.3" x2="520.50" y2="679.5" stroke="#000" stroke-width="1"/>
<line x1="520.50" y1="901" x2="520.50" y2="906.7" stroke="#000" stroke-width="1"/>
<line x1="292.3" y1="680.50" x2="300" y2="680.50" stroke="#000" stroke-width="1"/>
<line x1="521.5" y1="680.50" x2="527" y2="680.50" stroke="#000" stroke-width="1"/>
<line x1="296" y1="692.69" x2="300" y2="692.69" stroke="#000" stroke-width="1"/>
<line x1="521.5" y1="692.69" x2="524.2" y2="692.69" stroke="#000" stroke-width="1"/>
<line x1="296" y1="704.89" x2="300" y2="704.89" stroke="#000" stroke-width="1"/>
<line x1="521.5" y1="704.89" x2="524.2" y2="704.89" stroke="#000" stroke-width="1"/>
<line x1="292.3" y1="717.08" x2="300" y2="717.08" stroke="#000" stroke-width="1"/>
<line x1="521.5" y1="717.08" x2="527" y2="717.08" stroke="#000" stroke-width="1"/>
<line x1="296" y1="729.28" x2="300" y2="729.28" stroke="#000" stroke-width="1"/>
<line x1="521.5" y1="729.28" x2="524.2" y2="729.28" stroke="#000" stroke-width="1"/>
<line x1="296" y1="741.47" x2="300" y2="741.47" stroke="#000" stroke-width="1"/>
<line x1="521.5" y1="741.47" x2="524.2" y2="741.47" stroke="#000" stroke-width="1"/>
<line x1="292.3" y1="753.67" x2="300" y2="753.67" stroke="#000" stroke-width="1"/>
<line x1="521.5" y1="753.67" x2="527" y2="753.67" stroke="#000" stroke-width="1"/>
<line x1="296" y1="765.86" x2="300" y2="765.86" stroke="#000" stroke-width="1"/>
<line x1="521.5" y1="765.86" x2="524.2" y2="765.86" stroke="#000" stroke-width="1"/>
<line x1="296" y1="778.06" x2="300" y2="778.06" stroke="#000" stroke-width="1"/>
<line x1="521.5" y1="778.06" x2="524.2" y2="778.06" stroke="#000" stroke-width="1"/>
<line x1="292.3" y1="790.25" x2="300" y2="790.25" stroke="#000" stroke-width="1"/>
<line x1="521.5" y1="790.25" x2="527" y2="790.25" stroke="#000" stroke-width="1"/>
<line x1="296" y1="802.44" x2="300" y2="802.44" stroke="#000" stroke-width="1"/>
<line x1="521.5" y1="802.44" x2="524.2" y2="802.44" stroke="#000" stroke-width="1"/>
<line x1="296" y1="814.64" x2="300" y2="814.64" stroke="#000" stroke-width="1"/>
<line x1="521.5" y1="814.64" x2="524.2" y2="814.64" stroke="#000" stroke-width="1"/>
<line x1="292.3" y1="826.83" x2="300" y2="826.83" stroke="#000" stroke-width="1"/>
<line x1="521.5" y1="826.83" x2="527" y2="826.83" stroke="#000" stroke-width="1"/>
<line x1="296" y1="839.03" x2="300" y2="839.03" stroke="#000" stroke-width="1"/>
<line x1="521.5" y1="839.03" x2="524.2" y2="839.03" stroke="#000" stroke-width="1"/>
<line x1="296" y1="851.22" x2="300" y2="851.22" stroke="#000" stroke-width="1"/>
<line x1="521.5" y1="851.22" x2="524.2" y2="851.22" stroke="#000" stroke-width="1"/>
<line x1="292.3" y1="863.42" x2="300" y2="863.42" stroke="#000" stroke-width="1"/>
<line x1="521.5" y1="863.42" x2="527" y2="863.42" stroke="#000" stroke-width="1"/>
<line x1="296" y1="875.61" x2="300" y2="875.61" stroke="#000" stroke-width="1"/>
<line x1="521.5" y1="875.61" x2="524.2" y2="875.61" stroke="#000" stroke-width="1"/>
<line x1="296" y1="887.81" x2="300" y2="887.81" stroke="#000" stroke-width="1"/>
<line x1="521.5" y1="887.81" x2="524.2" y2="887.81" stroke="#000" stroke-width="1"/>
<line x1="292.3" y1="900.00" x2="300" y2="900.00" stroke="#000" stroke-width="1"/>
<line x1="521.5" y1="900.00" x2="527" y2="900.00" stroke="#000" stroke-width="1"/>
<text x="284" y="687.1" font-family="'Liberation Sans', sans-serif" font-size="18.5" text-anchor="end">90</text>
<text x="284" y="723.7" font-family="'Liberation Sans', sans-serif" font-size="18.5" text-anchor="end">60</text>
<text x="284" y="760.3" font-family="'Liberation Sans', sans-serif" font-size="18.5" text-anchor="end">30</text>
<text x="284" y="796.9" font-family="'Liberation Sans', sans-serif" font-size="18.5" text-anchor="end">0</text>
<text x="284" y="833.4" font-family="'Liberation Sans', sans-serif" font-size="18.5" text-anchor="end">-30</text>
<text x="284" y="870.0" font-family="'Liberation Sans', sans-serif" font-size="18.5" text-anchor="end">-60</text>
<text x="284" y="906.6" font-family="'Liberation Sans', sans-serif" font-size="18.5" text-anchor="end">-90</text>
<text x="301.0" y="928.9" font-family="'Liberation Sans', sans-serif" font-size="18.5" text-anchor="middle">0.0</text>
<text x="337.6" y="928.9" font-family="'Liberation Sans', sans-serif" font-size="18.5" text-anchor="middle">0.5</text>
<text x="374.2" y="928.9" font-family="'Liberation Sans', sans-serif" font-size="18.5" text-anchor="middle">1.0</text>
<text x="410.8" y="928.9" font-family="'Liberation Sans', sans-serif" font-size="18.5" text-anchor="middle">1.5</text>
<text x="447.3" y="928.9" font-family="'Liberation Sans', sans-serif" font-size="18.5" text-anchor="middle">2.0</text>
<text x="483.9" y="928.9" font-family="'Liberation Sans', sans-serif" font-size="18.5" text-anchor="middle">2.5</text>
<text x="520.5" y="928.9" font-family="'Liberation Sans', sans-serif" font-size="18.5" text-anchor="middle">3.0</text>
<text x="410" y="954.4" font-family="'Liberation Serif', serif" font-weight="bold" font-size="16.8" text-anchor="middle">Splitting time (s)</text>
<text transform="translate(250.3 789.6) rotate(-90)" x="0" y="0" font-family="'Liberation Serif', serif" font-weight="bold" font-size="16.9" text-anchor="middle">Fast direction (degree)</text>
<text x="410.3" y="979.7" font-family="'Liberation Sans', sans-serif" font-size="19.4" text-anchor="middle">Ror=16.24; Rot= 1.19; Rct= 1.10; Rct/Rot= 0.92</text>
</svg></body></html>
